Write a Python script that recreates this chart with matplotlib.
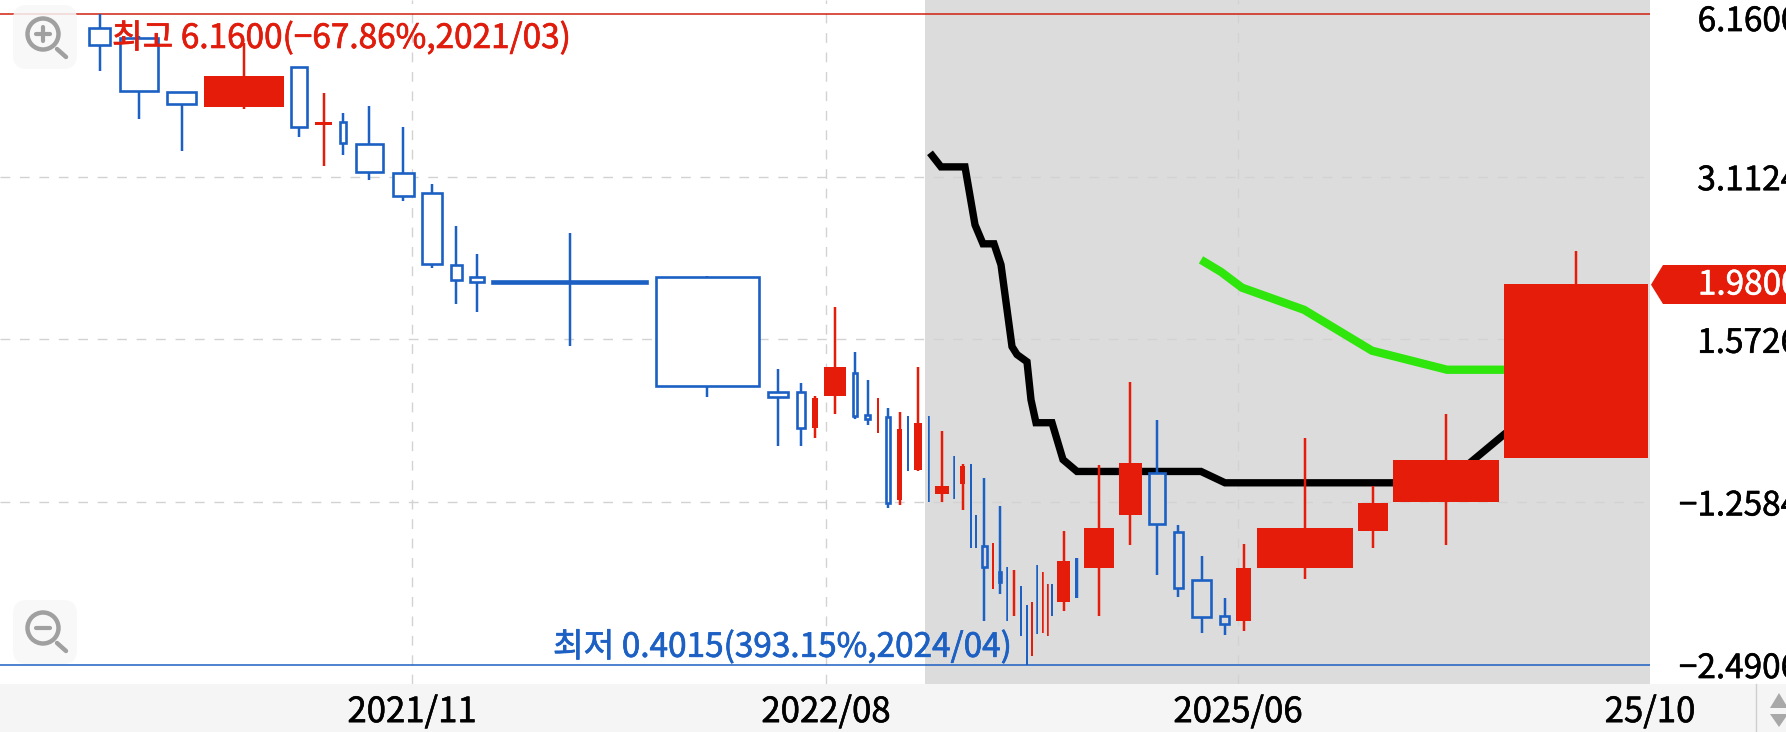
import matplotlib
matplotlib.use('Agg')
import matplotlib.pyplot as plt
import matplotlib.patheffects as pe
from matplotlib.patches import Circle, FancyBboxPatch, Polygon, Rectangle
from matplotlib.ticker import NullLocator
from matplotlib.transforms import ScaledTranslation

plt.rcParams['font.family'] = ['Noto Sans CJK KR', 'DejaVu Sans']

# candles: x is the running volume position, width is the volume of the candle
center = [99.5, 139, 181.5, 244, 299, 323.5, 343, 369, 403, 432, 456, 477, 569.5, 707,
          778, 800.5, 815, 834.5, 855, 867.5, 877.5, 888, 899.5, 908, 918.3, 928.7, 941.7, 954.3,
          962.5, 971, 976, 984.2, 993, 1000, 1007.3, 1014, 1021, 1027, 1032, 1037.3, 1042.7, 1047.7,
          1052, 1063.7, 1076.7, 1098.7, 1130.4, 1156.7, 1178, 1201.5, 1224.5, 1243.7, 1304.9, 1373,
          1446, 1576]
volume = [23.5, 40, 31, 80, 18.5, 17, 8.5, 29, 23, 21.5, 13, 16, 157, 105,
          22, 10, 6, 22, 6.5, 6.5, 2, 6, 5.5, 1.5, 8, 1.5, 14, 1.5,
          4.5, 1.5, 1.5, 7, 1.5, 3.5, 1.5, 2.5, 1.5, 1.5, 1.5, 1.5, 1.5, 1.5,
          1.5, 13.3, 2.5, 30, 23, 18, 11, 21, 11, 15.4, 95.8, 29.8,
          106, 143.3]
open_ = [5.808, 5.570, 4.439, 4.171, 4.932, 3.860, 3.914, 3.572, 3.160, 2.906, 2.150, 2.045, 2.010, 2.045,
         1.262, 1.262, 1.085, 1.241, 1.366, 1.146, 1.062, 1.137, 0.802, 1.141, 0.907, 1.141, 0.820, 0.962,
         0.855, 0.930, 0.751, 0.660, 0.551, 0.591, 0.604, 0.492, 0.558, 0.515, 0.417, 0.611, 0.459, 0.452,
         0.563, 0.521, 0.629, 0.601, 0.751, 0.899, 0.699, 0.572, 0.492, 0.481, 0.601, 0.702,
         0.793, 0.954]
high = [6.160, 5.617, 4.439, 5.451, 4.932, 4.419, 4.064, 4.189, 3.835, 3.020, 2.533, 2.252, 2.457, 2.054,
        1.390, 1.311, 1.241, 1.803, 1.492, 1.328, 1.231, 1.181, 1.161, 1.141, 1.402, 1.141, 1.072, 0.962,
        0.930, 0.930, 0.751, 0.880, 0.670, 0.780, 0.604, 0.596, 0.558, 0.515, 0.521, 0.611, 0.591, 0.563,
        0.563, 0.702, 0.629, 0.926, 1.316, 1.122, 0.720, 0.632, 0.530, 0.665, 1.041, 0.848,
        1.151, 2.279]
low = [4.848, 3.965, 3.467, 4.135, 3.678, 3.256, 3.411, 3.071, 2.811, 2.123, 1.826, 1.765, 1.531, 1.236,
       1.006, 1.006, 1.041, 1.151, 1.127, 1.099, 1.062, 0.773, 0.783, 0.903, 0.903, 0.795, 0.795, 0.806,
       0.767, 0.654, 0.654, 0.483, 0.551, 0.539, 0.483, 0.492, 0.452, 0.4015, 0.417, 0.456, 0.459, 0.452,
       0.492, 0.502, 0.530, 0.492, 0.662, 0.584, 0.534, 0.458, 0.454, 0.462, 0.574, 0.654,
       0.662, 0.954]
close = [5.409, 4.458, 4.224, 4.750, 3.835, 3.910, 3.584, 3.174, 2.872, 2.159, 2.019, 2.001, 1.993, 1.295,
         1.236, 1.085, 1.231, 1.402, 1.141, 1.127, 1.231, 0.792, 1.081, 0.903, 1.107, 0.795, 0.848, 0.806,
         0.922, 0.654, 0.654, 0.604, 0.670, 0.567, 0.483, 0.596, 0.452, 0.4015, 0.521, 0.456, 0.591, 0.563,
         0.492, 0.621, 0.530, 0.711, 0.937, 0.723, 0.553, 0.490, 0.475, 0.601, 0.711, 0.790,
         0.949, 1.980]

# moving averages
black_x = [930, 941, 965, 975, 983, 994, 1001, 1012, 1017, 1027, 1031, 1036, 1052, 1063, 1077, 1201, 1225, 1446, 1506]
black_y = [3.440, 3.243, 3.243, 2.543, 2.348, 2.348, 2.150, 1.525, 1.475, 1.431, 1.220, 1.108, 1.108, 0.949, 0.903, 0.903, 0.861, 0.861, 1.062]
green_x = [1201, 1221, 1242, 1304, 1372, 1447, 1506]
green_y = [2.195, 2.087, 1.953, 1.780, 1.499, 1.384, 1.384]

y_ticks = [6.16, 3.1124, 1.5726, 0.7946, 0.4015]
y_labels = ['6.1600', '3.1124', '1.5726', '\u22121.2584', '\u22122.4906']
x_ticks = [412, 826, 1238, 1650]
x_labels = ['2021/11', '2022/08', '2025/06', '25/10']

RED = '#e61c0a'
BLUE = '#1c60c4'
GRID = '#d2d2d2'
SHADE = '#dcdcdc'
shade_start = 925
W, H = 1786, 732

fig = plt.figure(figsize=(W / 100, H / 100), dpi=100, facecolor='white')
fig.add_artist(Rectangle((0, 0), 1, 48 / H, transform=fig.transFigure, color='#f5f5f5', lw=0, zorder=-1))

ax = fig.add_axes([0, 48 / H, 1650 / W, 684 / H])
ax.set_yscale('log')
ax.set_xlim(0, 1650)
ax.set_ylim(0.3700, 6.534)
ax.axvspan(shade_start, 1650, color=SHADE, lw=0, zorder=0)
for s in ax.spines.values():
    s.set_visible(False)

for y in y_ticks[1:4]:
    ax.axhline(y, color=GRID, lw=1, ls=(0, (7, 7)), zorder=1)
for x in x_ticks[:3]:
    ax.axvline(x, color=GRID, lw=1, ls=(0, (7, 7)), zorder=1)
ax.axhline(y_ticks[0], color='#d0200f', lw=1.1, zorder=1)
ax.axhline(y_ticks[4], color=BLUE, lw=1.1, zorder=1)

ax.plot(black_x, black_y, color='black', lw=5.3, solid_joinstyle='miter', solid_capstyle='butt', zorder=2)
ax.plot(green_x, green_y, color='#2ee60c', lw=6, solid_joinstyle='miter', solid_capstyle='butt', zorder=2)

for i in range(len(center)):
    up = close[i] >= open_[i]
    col = RED if up else BLUE
    w = volume[i]
    ax.vlines(center[i], low[i], high[i], color=col, lw=min(w, 2.5) * 0.72, zorder=3)
    bottom = min(open_[i], close[i])
    height = abs(close[i] - open_[i])
    if up or w <= 3:
        ax.bar(center[i], height, w, bottom=bottom, color=col, lw=0, zorder=4)
    else:
        fill = SHADE if center[i] > shade_start else 'white'
        ax.bar(center[i], height, w - 2, bottom=bottom, facecolor=fill, edgecolor=col, lw=1.9, zorder=4)

ax.yaxis.tick_right()
ax.set_yticks(y_ticks)
ax.set_yticklabels(y_labels, fontsize=24, color='black', ha='right')
ax.yaxis.set_minor_locator(NullLocator())
ax.tick_params(axis='y', length=0, pad=107)
ax.set_xticks(x_ticks)
ax.set_xticklabels(x_labels, fontsize=25, color='black')
ax.tick_params(axis='x', length=0, pad=8)
for lab in ax.get_yticklabels() + ax.get_xticklabels():
    lab.set_path_effects([pe.withStroke(linewidth=0.4, foreground='black')])
# top label sits a little lower so it is not cut by the edge
lab = ax.get_yticklabels()[0]
lab.set_transform(lab.get_transform() + ScaledTranslation(0, -3.5 / 100, fig.dpi_scale_trans))

heavy_red = [pe.withStroke(linewidth=0.5, foreground='#e01c0c')]
heavy_blue = [pe.withStroke(linewidth=0.5, foreground=BLUE)]
ax.text(112, 5.56, '최고 6.1600(\u221267.86%,2021/03)', color='#e01c0c', fontsize=24,
        va='center', ha='left', zorder=6, path_effects=heavy_red)
ax.text(553, 0.4316, '최저 0.4015(393.15%,2024/04)', color=BLUE, fontsize=24,
        va='center', ha='left', zorder=6, path_effects=heavy_blue)

# page furniture in figure pixels: zoom buttons, price tag, scroll arrows
top = fig.add_axes([0, 0, 1, 1], facecolor='none')
top.set_xlim(0, W)
top.set_ylim(H, 0)
top.axis('off')

for by, cy, plus in [(5, 34, True), (600, 628, False)]:
    top.add_patch(FancyBboxPatch((21, by + 8), 48, 48, boxstyle='round,pad=8,rounding_size=14',
                                 fc='#f7f7f7', ec='none', alpha=0.85))
    top.add_patch(Circle((43, cy), 15.5, fc='none', ec='#a0a0a0', lw=3.2))
    top.plot([57, 66], [cy + 15, cy + 23], color='#a0a0a0', lw=3.2, solid_capstyle='round')
    top.plot([36, 50], [cy, cy], color='#a0a0a0', lw=3, solid_capstyle='round')
    if plus:
        top.plot([43, 43], [cy - 7, cy + 7], color='#a0a0a0', lw=3, solid_capstyle='round')

top.add_patch(Polygon([(1651, 284.7), (1663, 265), (W, 265), (W, 304), (1663, 304)], fc=RED, ec='none'))
top.text(1799, 285, '1.9800', color='white', fontsize=24, ha='right', va='center',
         path_effects=[pe.withStroke(linewidth=0.4, foreground='white')])

top.plot([1755.7, 1755.7], [684, H], color='#cfcfcf', lw=1)
top.add_patch(Polygon([(1779, 693), (1770, 708), (1788, 708)], fc='#a8a8a8', ec='none'))
top.add_patch(Polygon([(1770, 714), (1788, 714), (1779, 727)], fc='#a8a8a8', ec='none'))

fig.savefig('out.png', dpi=100)
